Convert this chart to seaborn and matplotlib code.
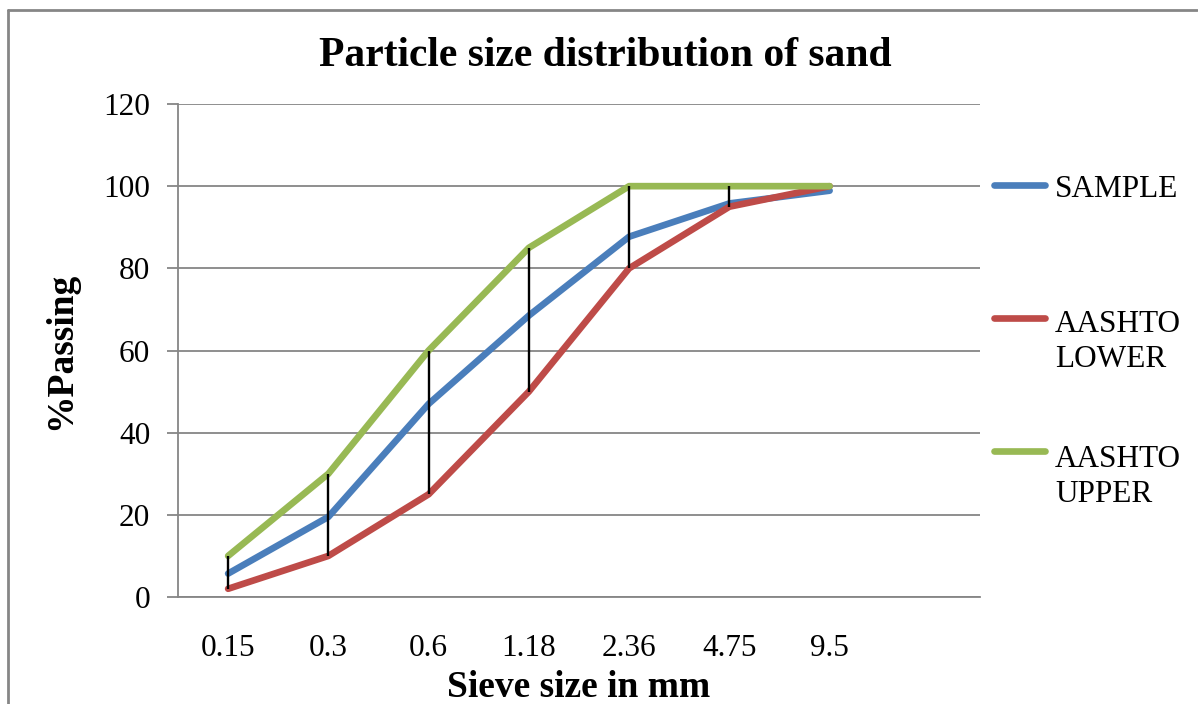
import matplotlib
matplotlib.use("Agg")
import matplotlib.pyplot as plt
import seaborn as sns
import pandas as pd
from matplotlib.lines import Line2D

sieve_sizes = ["0.15", "0.3", "0.6", "1.18", "2.36", "4.75", "9.5"]
sample = [5.7, 19.5, 47, 68.5, 87.7, 95.8, 98.9]
aashto_lower = [2, 10, 25, 50, 80, 95, 100]
aashto_upper = [10, 30, 60, 85, 100, 100, 100]
series_names = ["SAMPLE", "AASHTO LOWER", "AASHTO UPPER"]
colors = ["#4A7EBB", "#BE4B48", "#98B954"]

sns.set_theme(style="white")
plt.rcParams["font.family"] = ["Liberation Serif", "DejaVu Serif"]
plt.rcParams["text.color"] = "black"
plt.rcParams["axes.labelcolor"] = "black"
plt.rcParams["xtick.color"] = "black"
plt.rcParams["ytick.color"] = "black"

rows = []
for name, vals in zip(series_names, [sample, aashto_lower, aashto_upper]):
    for i, v in enumerate(vals):
        rows.append({"pos": i, "value": v, "series": name})
df = pd.DataFrame(rows)

W, H = 1198, 704
fig = plt.figure(figsize=(W / 100, H / 100), dpi=100)
ax = fig.add_axes([178/W, 1-597/H, (980-178)/W, (597-104)/H])

sns.lineplot(data=df, x="pos", y="value", hue="series", hue_order=series_names,
             palette=colors, linewidth=4.8, sort=False, ax=ax, legend=False,
             solid_capstyle="round", solid_joinstyle="round", zorder=3)

positions = list(range(len(sieve_sizes)))
ax.vlines(positions, aashto_lower, aashto_upper, color="black", linewidth=1.7, zorder=5)

ax.set_xlim(-0.5, 7.5)
ax.set_ylim(0, 120)
ax.set_yticks(range(0, 121, 20))
ax.set_xticks(positions)
ax.set_xticklabels(sieve_sizes)
ax.yaxis.grid(True, color="#868686", linewidth=1.3)
ax.xaxis.grid(False)
ax.set_axisbelow(True)
for s in ["top", "right"]:
    ax.spines[s].set_visible(False)
for s in ["left", "bottom"]:
    ax.spines[s].set_color("#868686")
    ax.spines[s].set_linewidth(1.3)
ax.tick_params(axis="y", left=True, length=8, width=1.3, color="#868686", pad=12,
               labelsize=22.5, labelcolor="black")
ax.tick_params(axis="x", length=0, pad=27, labelsize=22.5, labelcolor="black")

ax.set_xlabel("Sieve size in mm", fontsize=27, fontweight="bold", labelpad=5, color="black")
ax.set_ylabel("%Passing", fontsize=27, fontweight="bold", labelpad=18, color="black")
fig.text(605/W, 1-56/H, "Particle size distribution of sand", fontsize=30,
         fontweight="bold", ha="center", va="center", color="black")

# legend (drawn manually to match layout)
legend_rows = [(185, ["SAMPLE"], [197]),
               (318, ["AASHTO", "LOWER"], [332, 367]),
               (451, ["AASHTO", "UPPER"], [467, 502])]
for c, (hy, lines, baselines) in zip(colors, legend_rows):
    fig.add_artist(Line2D([994/W, 1045/W], [1-hy/H, 1-hy/H], color=c, linewidth=4.8,
                          solid_capstyle="round", transform=fig.transFigure))
    for txt, by in zip(lines, baselines):
        fig.text(1055/W, 1-by/H, txt, fontsize=22.5, ha="left", va="baseline", color="black")

# chart border (left and top edges visible)
border = dict(color="#868686", linewidth=2, transform=fig.transFigure)
fig.add_artist(Line2D([8/W, 8/W], [0, 1-10/H], **border))
fig.add_artist(Line2D([8/W, 1197/W], [1-10/H, 1-10/H], **border))

fig.savefig("out.png", dpi=100)
